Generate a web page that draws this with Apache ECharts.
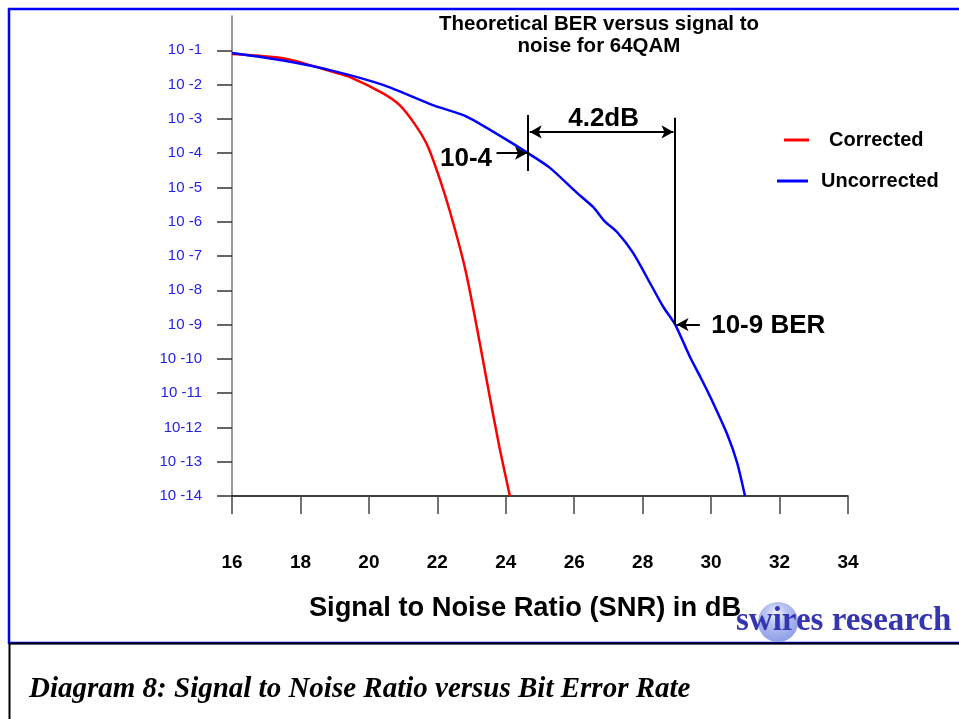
<!DOCTYPE html>
<html>
<head>
<meta charset="utf-8">
<script src="https://cdn.jsdelivr.net/npm/echarts@6/dist/echarts.min.js"></script>
<style>
html,body{margin:0;padding:0;background:#fff;}
#chart{width:959px;height:719px;}
</style>
</head>
<body>
<div id="chart"></div>
<script>
// ---- data (x = SNR in dB, y = log10(BER)) ----
const correctedData = [
  [16,-1.11],[17.6,-1.25],[18.95,-1.63],[19.45,-1.78],[20.4,-2.25],[20.9,-2.6],
  [21.4,-3.24],[21.73,-3.82],[22.08,-4.78],[22.37,-5.71],[22.75,-7.11],[22.96,-8.07],
  [23.25,-9.59],[23.54,-11.15],[23.83,-12.65],[24.12,-14.0]
];
const uncorrectedData = [
  [16,-1.08],[17.5,-1.3],[18.95,-1.6],[20.41,-2.01],[21.87,-2.6],[22.87,-2.94],
  [24.42,-3.85],[24.65,-4.0],[25.29,-4.43],[26.08,-5.16],[26.55,-5.57],[26.9,-6.0],
  [27.25,-6.3],[27.72,-6.91],[28.21,-7.78],[28.6,-8.48],[28.95,-9.0],[29.38,-9.94],
  [29.68,-10.52],[29.97,-11.1],[30.47,-12.2],[30.76,-13.03],[30.99,-14.0]
];
const yTickValues = [-1,-2,-3,-4,-5,-6,-7,-8,-9,-10,-11,-12,-13,-14];
const yTickLabels = ['10 -1','10 -2','10 -3','10 -4','10 -5','10 -6','10 -7','10 -8','10 -9','10 -10','10 -11','10-12','10 -13','10 -14'];
const seriesNames = ['Corrected','Uncorrected'];
// annotation points (SNR dB, log10 BER)
const ber4 = [24.65,-4.0];
const ber9 = [28.95,-9.0];
const gapLabel = '4.2dB';
const gapY = -3.38;

const FONT = '"Liberation Sans", Arial, sans-serif';
const SERIF = '"Liberation Serif", "Times New Roman", serif';

const chart = echarts.init(document.getElementById('chart'));

const ann = [
  [{coord:[ber4[0],-2.89],symbol:'none'},{coord:[ber4[0],-4.52],symbol:'none'}],
  [{coord:[ber9[0],-2.97],symbol:'none'},{coord:[ber9[0],ber9[1]],symbol:'none'}],
  [{coord:[ber4[0]+0.05,gapY],symbol:'arrow'},{coord:[ber9[0]-0.05,gapY],symbol:'arrow'}],
  [{coord:[ber4[0]-0.92,ber4[1]],symbol:'none'},{coord:[ber4[0]-0.03,ber4[1]],symbol:'arrow'}],
  [{coord:[ber9[0]+0.72,ber9[1]],symbol:'none'},{coord:[ber9[0]+0.04,ber9[1]],symbol:'arrow'}]
];

const option = {
  animation:false,
  backgroundColor:'#fff',
  title:{
    text:'Theoretical BER versus signal to\nnoise for 64QAM',
    left:599, top:13, textAlign:'center', padding:0,
    textStyle:{fontFamily:FONT,fontSize:20.5,fontWeight:'bold',color:'#000',lineHeight:22}
  },
  legend:[
    {data:[seriesNames[0]],left:784,top:130,padding:0,itemWidth:25,itemHeight:3,icon:'rect',
     textStyle:{fontFamily:FONT,fontSize:20,fontWeight:'bold',color:'#000',padding:[0,0,0,15]}},
    {data:[seriesNames[1]],left:777,top:171,padding:0,itemWidth:31,itemHeight:3,icon:'rect',
     textStyle:{fontFamily:FONT,fontSize:20,fontWeight:'bold',color:'#000',padding:[0,0,0,8]}}
  ],
  grid:{left:232,right:111,top:16,bottom:223},
  xAxis:{
    type:'value',min:16,max:34,interval:2,position:'bottom',
    name:'Signal to Noise Ratio (SNR) in dB',
    nameLocation:'middle',nameGap:99,
    nameTextStyle:{fontFamily:FONT,fontSize:27.3,fontWeight:'bold',color:'#000',padding:[0,30,0,0]},
    axisLine:{onZero:false,lineStyle:{color:'#000',width:1.5}},
    axisTick:{show:true,length:18,lineStyle:{color:'#444',width:1.5}},
    axisLabel:{margin:57,fontFamily:FONT,fontSize:19,fontWeight:'bold',color:'#000'},
    splitLine:{show:false}
  },
  yAxis:{
    type:'value',min:-14,max:0,
    axisLine:{show:true,onZero:false,lineStyle:{color:'#777',width:1.5}},
    axisTick:{show:true,length:15,customValues:yTickValues,lineStyle:{color:'#333',width:1.5}},
    axisLabel:{margin:30,customValues:yTickValues,fontFamily:FONT,fontSize:15,color:'#2222ee',
      formatter:function(v){const i=yTickValues.indexOf(Math.round(v));return i>=0?yTickLabels[i]:'';}},
    splitLine:{show:false}
  },
  series:[
    {name:seriesNames[0],type:'line',data:correctedData,smooth:0.25,showSymbol:false,
     lineStyle:{color:'#ff0000',width:2.5},itemStyle:{color:'#ff0000'},z:3},
    {name:seriesNames[1],type:'line',data:uncorrectedData,smooth:0.25,showSymbol:false,
     lineStyle:{color:'#0000ff',width:2.5},itemStyle:{color:'#0000ff'},z:4,
     markLine:{silent:true,animation:false,symbolSize:[10,12],
       label:{show:false},
       lineStyle:{color:'#000',width:2,type:'solid'},
       emphasis:{disabled:true},
       data:ann}}
  ]
};
chart.setOption(option);

function px(p){return chart.convertToPixel({gridIndex:0},p);}
const p4 = px(ber4), p9 = px(ber9), pg = px([(ber4[0]+ber9[0])/2,gapY]);
const boldBig = {fontFamily:FONT,fontSize:26,fontWeight:'bold',fill:'#000'};
chart.setOption({
  graphic:[
    {type:'rect',silent:true,z:-1,shape:{x:9,y:9,width:960,height:634},style:{fill:'none',stroke:'#0000ff',lineWidth:2.5}},
    {type:'rect',silent:true,z:-1,shape:{x:9.5,y:643.5,width:960,height:90},style:{fill:'none',stroke:'#000',lineWidth:2}},
    {type:'text',x:p4[0]-36,y:p4[1]+6,style:Object.assign({text:'10-4',align:'right',verticalAlign:'middle'},boldBig)},
    {type:'text',x:pg[0]+2,y:pg[1]-13,style:Object.assign({text:gapLabel,align:'center',verticalAlign:'middle'},boldBig)},
    {type:'text',x:p9[0]+36,y:p9[1]+1,style:Object.assign({text:'10-9 BER',align:'left',verticalAlign:'middle'},boldBig)},
    {type:'circle',silent:true,z:0,shape:{cx:778,cy:622,r:20},
     style:{fill:new echarts.graphic.RadialGradient(0.45,0.3,0.8,[{offset:0,color:'#f4f6ff'},{offset:0.35,color:'#b4c0f2'},{offset:1,color:'#8597e2'}])}},
    {type:'text',x:736,y:621,z:1,style:{text:'swires research',fontFamily:SERIF,fontSize:33,fontWeight:'bold',fill:'#3535b0',verticalAlign:'middle',align:'left'}},
    {type:'text',x:29,y:690,style:{text:'Diagram 8: Signal to Noise Ratio versus Bit Error Rate',fontFamily:SERIF,fontSize:29,fontWeight:'bold',fontStyle:'italic',fill:'#000',verticalAlign:'middle'}}
  ]
});
</script>
</body>
</html>
